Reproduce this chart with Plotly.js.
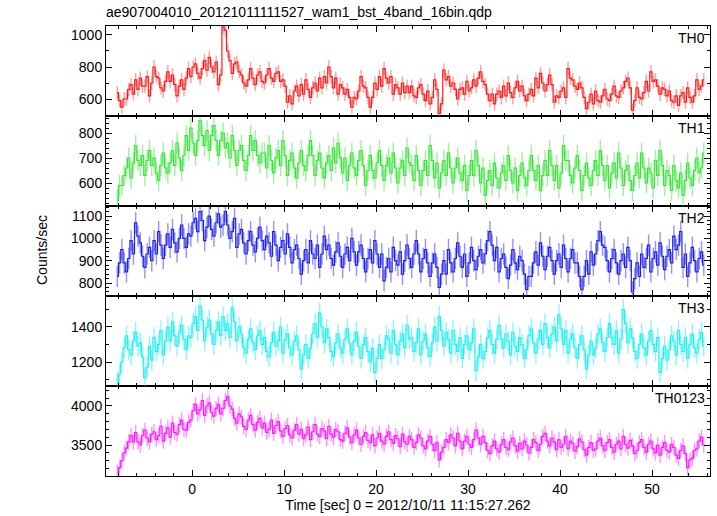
<!DOCTYPE html>
<html>
<head>
<meta charset="utf-8">
<script src="https://cdn.plot.ly/plotly-3.0.1.min.js"></script>
<style>html,body{margin:0;padding:0;background:#fff}#chart{width:717px;height:516px}</style>
</head>
<body>
<div id="chart"></div>
<script>
// Light curve: 0.25 s bins, first bin centre at -8.125 s
const tStart = -8.125;
const binWidth = 0.25;
const panelLabels = ["TH0", "TH1", "TH2", "TH3", "TH0123"];
const errTH = [42, 42, 48, 58, 98];

const th0 = [
 640,590,550,600,600,660,690,630,720,660,730,680,680,740,620,700,
 800,740,730,670,650,710,770,710,750,690,620,680,720,660,730,790,
 740,800,820,760,730,790,840,780,860,800,770,830,690,750,1050,1030,
 900,840,760,820,830,770,750,700,680,720,790,730,690,750,770,710,
 700,750,790,730,710,760,770,710,720,680,580,620,570,650,680,620,
 690,630,720,660,610,670,700,650,730,670,740,700,800,740,670,730,
 630,690,670,630,660,610,550,610,600,650,740,680,670,610,550,610,
 700,660,740,680,790,730,700,740,630,690,670,630,700,640,680,640,
 680,620,610,670,690,630,590,650,570,610,720,660,510,570,780,720,
 740,680,700,660,600,660,670,630,710,650,670,720,680,730,770,710,
 690,630,590,630,570,630,650,610,680,620,700,640,610,670,710,650,
 680,620,590,630,660,620,730,670,760,700,650,690,750,690,580,620,
 610,650,670,610,790,730,720,680,660,700,670,610,540,580,630,570,
 650,590,580,620,660,600,590,630,680,620,610,650,670,710,730,670,
 530,590,670,610,600,640,710,650,770,710,720,680,630,670,660,620,
 650,590,580,620,560,620,640,580,670,610,580,620,720,660,680,720
];
const th1 = [
 530,590,590,630,660,700,620,680,750,690,670,710,630,690,730,670,
 700,640,610,670,720,660,640,680,730,670,760,700,650,710,790,730,
 820,760,710,770,850,790,750,810,730,790,830,770,710,770,800,740,
 760,700,790,730,670,730,750,690,650,710,790,730,770,710,680,720,
 720,660,750,690,640,700,730,670,770,710,630,690,720,660,620,680,
 730,670,650,710,770,710,630,690,720,660,620,680,710,650,740,680,
 760,700,640,700,610,670,720,660,630,690,730,670,590,650,710,650,
 620,680,730,670,610,670,700,640,720,660,600,660,690,630,740,680,
 670,610,710,650,590,650,690,630,750,690,620,680,580,640,690,630,
 720,660,600,660,700,640,610,670,570,630,690,630,730,670,600,660,
 550,610,650,590,680,620,580,640,670,610,710,650,600,660,570,630,
 680,620,590,650,710,650,610,670,570,630,690,630,730,670,610,670,
 580,640,750,690,690,630,600,660,710,650,570,630,680,620,590,650,
 690,630,730,670,610,670,580,640,680,620,720,660,590,650,670,610,
 570,630,680,620,720,660,600,660,640,580,690,630,730,670,590,650,
 630,570,670,610,580,640,550,610,680,620,590,650,700,640,660,720
];
const th2 = [
 830,890,950,890,850,910,990,930,1070,1010,980,920,870,930,960,900,
 990,930,1030,970,910,970,1020,960,1040,980,940,1000,1060,1000,960,1020,
 1010,1070,1090,1030,1120,1080,990,1050,1100,1040,1010,1070,1110,1050,1060,1120,
 1060,1000,1030,1090,960,1020,1040,980,930,990,1030,970,940,1000,1050,990,
 950,1010,980,920,1030,970,900,960,990,930,1020,960,890,950,970,910,
 840,900,950,890,990,930,910,970,870,930,1010,950,970,910,880,940,
 980,920,870,930,960,900,1000,940,880,940,970,910,850,910,950,890,
 990,930,870,930,810,870,910,850,960,900,880,940,840,900,970,910,
 870,930,990,930,850,910,950,890,830,890,930,870,780,840,900,840,
 950,890,850,910,980,920,870,930,830,890,960,900,860,920,950,890,
 930,990,1030,970,900,960,850,910,930,870,820,880,950,890,860,920,
 900,840,770,830,830,890,940,880,980,920,860,920,960,900,840,900,
 930,870,970,910,850,910,950,890,890,830,770,830,900,840,940,880,
 930,990,1030,970,960,900,850,910,950,890,840,900,930,870,960,900,
 760,820,890,830,930,870,910,970,850,910,940,880,980,920,860,920,
 950,890,1010,950,970,1030,870,930,830,890,960,900,850,910,940,880
];
const th3 = [
 1080,1130,1200,1280,1350,1270,1240,1320,1370,1290,1310,1230,1110,1170,1290,1210,
 1340,1260,1300,1380,1240,1320,1400,1320,1430,1350,1290,1370,1410,1330,1270,1350,
 1340,1420,1460,1380,1520,1440,1320,1400,1440,1360,1300,1380,1430,1350,1460,1380,
 1420,1340,1510,1430,1320,1400,1360,1280,1250,1330,1390,1310,1270,1350,1380,1300,
 1340,1260,1230,1310,1370,1290,1320,1400,1250,1330,1360,1280,1240,1320,1350,1270,
 1160,1240,1300,1220,1280,1360,1420,1340,1480,1400,1310,1390,1340,1260,1230,1310,
 1360,1280,1250,1330,1390,1310,1240,1320,1370,1290,1220,1300,1340,1260,1200,1280,
 1140,1220,1300,1220,1270,1350,1330,1250,1380,1300,1240,1320,1360,1280,1410,1330,
 1340,1260,1310,1390,1240,1320,1360,1280,1230,1310,1400,1320,1460,1380,1290,1370,
 1330,1250,1380,1300,1260,1340,1220,1300,1350,1270,1310,1390,1150,1230,1300,1220,
 1260,1340,1380,1300,1250,1330,1410,1330,1280,1360,1320,1240,1370,1290,1260,1340,
 1300,1220,1270,1350,1390,1310,1250,1330,1380,1300,1420,1340,1280,1360,1400,1320,
 1470,1390,1300,1380,1250,1330,1360,1280,1220,1300,1350,1270,1160,1240,1320,1240,
 1280,1360,1390,1310,1260,1340,1420,1340,1300,1380,1250,1330,1500,1420,1310,1390,
 1340,1260,1220,1300,1360,1280,1240,1320,1380,1300,1260,1340,1140,1220,1290,1210,
 1270,1350,1320,1240,1380,1300,1260,1340,1220,1300,1360,1280,1250,1330,1370,1290
];
const th0123 = [
 3150,3210,3300,3400,3460,3540,3620,3540,3660,3540,3500,3620,3690,3590,3540,3640,
 3670,3570,3620,3740,3550,3650,3720,3600,3780,3660,3640,3760,3820,3700,3690,3790,
 3820,3940,4020,3900,3950,4070,3880,4000,4040,3920,3870,3970,4020,3900,3970,4070,
 4120,4000,3960,3840,3780,3900,3860,3740,3700,3820,3880,3760,3690,3790,3840,3720,
 3780,3660,3700,3820,3650,3750,3800,3680,3610,3710,3750,3630,3590,3690,3760,3640,
 3700,3580,3630,3730,3570,3670,3760,3640,3610,3710,3680,3580,3740,3640,3600,3700,
 3670,3570,3550,3650,3720,3600,3530,3630,3690,3590,3510,3610,3660,3560,3530,3630,
 3490,3590,3650,3550,3510,3610,3670,3570,3520,3620,3580,3480,3640,3540,3510,3610,
 3570,3470,3530,3630,3590,3490,3450,3550,3610,3510,3430,3530,3310,3410,3470,3570,
 3530,3630,3590,3490,3650,3550,3450,3550,3610,3510,3470,3570,3690,3590,3510,3610,
 3530,3430,3390,3490,3550,3450,3410,3510,3570,3470,3440,3540,3590,3490,3420,3520,
 3450,3550,3500,3400,3470,3570,3530,3430,3510,3610,3650,3550,3490,3590,3540,3440,
 3570,3470,3510,3610,3450,3550,3520,3420,3480,3580,3540,3440,3370,3470,3530,3430,
 3450,3550,3590,3490,3430,3530,3570,3470,3410,3510,3550,3450,3610,3510,3460,3560,
 3490,3390,3430,3530,3570,3470,3410,3510,3550,3450,3400,3500,3370,3470,3530,3430,
 3410,3510,3470,3370,3330,3430,3490,3390,3210,3310,3330,3430,3450,3550,3600,3500
];

const series = [th0, th1, th2, th3, th0123];
const colors = ["#ff1a1a", "#33e633", "#2020ee", "#1ff0f0", "#ff1aff"];
const errColors = ["rgba(255,60,60,0.5)", "rgba(60,230,60,0.5)", "rgba(40,40,240,0.5)", "rgba(40,240,240,0.55)", "rgba(255,40,255,0.5)"];
const yRanges = [[494, 1056], [508, 868], [742, 1145], [1063, 1577], [3103, 4256]];
const yDticks = [200, 100, 100, 200, 500];
const yMinor = [100, 20, 20, 100, 100];

const time = th0.map((_, i) => tStart + i * binWidth);

const font = "Liberation Sans, Arial, Helvetica, sans-serif";
const traces = [];
const layout = {
  width: 717, height: 516,
  margin: {l: 106, r: 7, t: 26, b: 40},
  paper_bgcolor: "#fff", plot_bgcolor: "#fff",
  showlegend: false,
  font: {family: font, size: 14, color: "#000"},
  title: {text: "ae907004010_20121011111527_wam1_bst_4band_16bin.qdp",
          x: 106/717, xref: "container", xanchor: "left",
          y: 1 - 12/516, yref: "container", yanchor: "middle",
          font: {family: font, size: 14, color: "#000"}},
  annotations: []
};

for (let p = 0; p < 5; p++) {
  const n = 5 - p;
  const xa = n === 1 ? "x" : "x" + n;
  const ya = n === 1 ? "y" : "y" + n;
  traces.push({
    x: time, y: series[p], xaxis: xa, yaxis: ya,
    type: "scatter", mode: "lines",
    line: {shape: "hvh", color: colors[p], width: 1.2},
    error_y: {type: "constant", value: errTH[p], color: errColors[p], thickness: 1.4, width: 0},
    hoverinfo: "skip"
  });
  const dom = [(n - 1) * 0.2, n * 0.2];
  const xKey = n === 1 ? "xaxis" : "xaxis" + n;
  const yKey = n === 1 ? "yaxis" : "yaxis" + n;
  layout[xKey] = {
    domain: [0, 1], anchor: ya, range: [-9.35, 56.3],
    tick0: 0, dtick: 10, ticks: "inside", ticklen: 6, tickwidth: 1, tickcolor: "#000",
    minor: {dtick: 2, ticks: "inside", ticklen: 3, tickcolor: "#000", showgrid: false},
    showline: true, linecolor: "#000", linewidth: 1, mirror: "allticks",
    showgrid: false, zeroline: false,
    showticklabels: n === 1,
    tickfont: {family: font, size: 14, color: "#000"}
  };
  if (n !== 1) layout[xKey].matches = "x";
  if (n === 1) {
    layout[xKey].title = {text: "Time [sec] 0 = 2012/10/11 11:15:27.262", standoff: 4,
                          font: {family: font, size: 14, color: "#000"}};
  }
  layout[yKey] = {
    domain: dom, anchor: xa, range: yRanges[p],
    dtick: yDticks[p], ticks: "inside", ticklen: 6, tickwidth: 1, tickcolor: "#000",
    minor: {dtick: yMinor[p], ticks: "inside", ticklen: 3, tickcolor: "#000", showgrid: false},
    showline: true, linecolor: "#000", linewidth: 1, mirror: "allticks",
    showgrid: false, zeroline: false,
    tickfont: {family: font, size: 14, color: "#000"}
  };
  layout.annotations.push({
    text: panelLabels[p], xref: "paper", yref: "paper",
    x: 1, y: dom[1], xanchor: "right", yanchor: "top", xshift: -3, yshift: -2,
    showarrow: false, font: {family: font, size: 14, color: "#000"}
  });
}
layout.annotations.push({
  text: "Counts/sec", xref: "paper", yref: "paper",
  x: (42 - 106) / 604, y: (476 - 250) / 450, xanchor: "center", yanchor: "middle",
  textangle: -90, showarrow: false, font: {family: font, size: 14, color: "#000"}
});

Plotly.newPlot("chart", traces, layout, {staticPlot: true, displayModeBar: false});
</script>
</body>
</html>
